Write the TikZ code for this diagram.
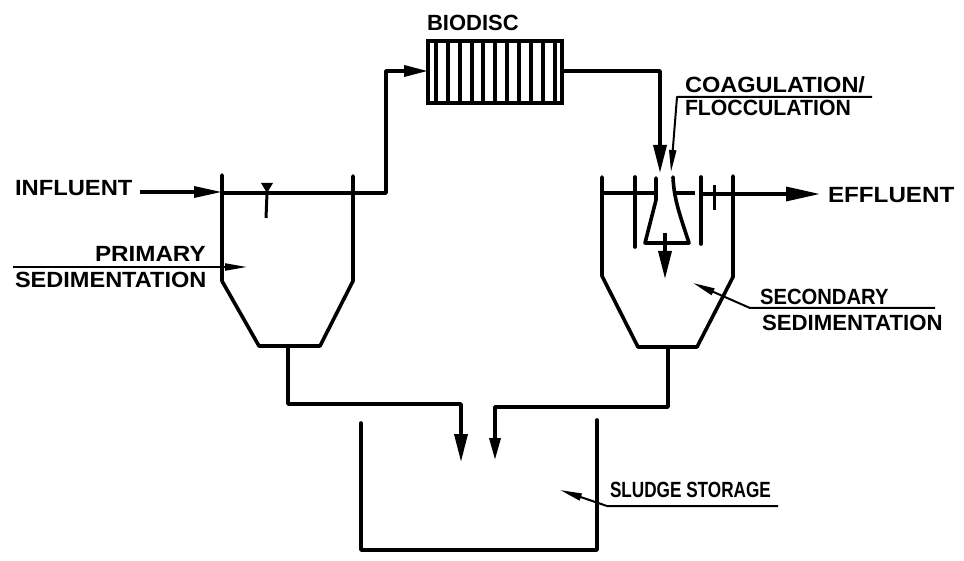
\documentclass[tikz,border=0pt]{standalone}
\usepackage{fontspec}
\setmainfont{Liberation Sans}
\usetikzlibrary{
  arrows.meta,
  positioning
}
\newcommand{\stretched}[2]{\scalebox{#1}[1]{#2}}

\begin{document}
\begin{tikzpicture}
  [
    x=1pt,y=-1pt,
    every node/.style={inner sep=0pt, outer sep=0pt},
    wall/.style={line width=3.6pt, line join=round, line cap=round},
    pipe/.style={line width=3.4pt, line join=round},
    leader/.style={line width=2pt, line join=round},
    bigtip/.style={-{Triangle[length=28pt,width=13pt]}},
    smalltip/.style={-{Triangle[length=22pt,width=7pt]}},
    lettering/.style={font=\fontsize{22}{22}\selectfont\bfseries, anchor=west},
    discbar/.style={line width=4.6pt},
  ]
  \useasboundingbox[fill=white] (0,0) rectangle (964,561);

  % primary tank
  \coordinate (PA) at (222,175);
  \coordinate (PB) at (222,281);
  \coordinate (PC) at (259,346);
  \coordinate (PD) at (320,346);
  \coordinate (PE) at (353,281);
  \coordinate (PF) at (353,176);
  \draw[wall] (PA) -- (PB) -- (PC) -- (PD) -- (PE) -- (PF);

  % secondary tank
  \coordinate (SA) at (602,177);
  \coordinate (SB) at (602,276);
  \coordinate (SC) at (638,347);
  \coordinate (SD) at (697,347);
  \coordinate (SE) at (733,277);
  \coordinate (SF) at (733,176);
  \draw[wall] (SA) -- (SB) -- (SC) -- (SD) -- (SE) -- (SF);

  % baffles and funnel
  \coordinate (BA) at (635,177);
  \coordinate (BB) at (635,247);
  \coordinate (BC) at (701,177);
  \coordinate (BD) at (701,244);
  \draw[wall] (BA) -- (BB);
  \draw[wall] (BC) -- (BD);
  \coordinate (FA) at (656,178);
  \coordinate (FB) at (656,200);
  \coordinate (FC) at (645,243);
  \coordinate (FD) at (689,243);
  \coordinate (FF) at (673,177);
  \draw[wall] (FA) -- (FB) -- (FC) -- (FD) .. controls (680,215) and (674,200) .. (FF);

  % storage
  \coordinate (TA) at (361,423);
  \coordinate (TB) at (361,550);
  \coordinate (TC) at (597,550);
  \coordinate (TD) at (597,420);
  \draw[wall] (TA) -- (TB) -- (TC) -- (TD);

  % biodisc
  \node[draw, line width=3.6pt, minimum width=134pt, minimum height=62pt] (disc) at (495,72) {};
  \foreach \barx in {436,448,460,472,483,495,507,519,531,543,555}
    \draw[discbar] (\barx,41) -- (\barx,103);
  \node[lettering] (disclabel) at (427,23) {BIODISC};

  % water lines
  \node[lettering] (influent) at (15,188) {\stretched{1.08}{INFLUENT}};
  \coordinate (inend) at (140,192);
  \draw[pipe, -{Triangle[length=28pt,width=11pt]}] (inend) -- (PA |- inend);
  \coordinate (upcorner) at (386,193);
  \coordinate (topcorner) at (386,71);
  \draw[pipe, -{Triangle[length=24pt,width=11pt]}] (PA |- upcorner) -- (upcorner) -- (topcorner) -- (disc.west |- topcorner);
  \coordinate (dropcorner) at (660,71);
  \coordinate (droptip) at (660,173);
  \draw[pipe, bigtip] (disc.east |- dropcorner) -- (dropcorner) -- (droptip);
  \coordinate (sleft) at (602,193);
  \coordinate (sfunnela) at (654,193);
  \coordinate (sfunnelb) at (674,193);
  \coordinate (smid) at (695,193);
  \draw[pipe] (sleft) -- (sfunnela);
  \draw[pipe] (sfunnelb) -- (smid);
  \node[lettering] (effluent) at (828,195) {\stretched{1.10}{EFFLUENT}};
  \coordinate (outtip) at (820,194);
  \draw[pipe, -{Triangle[length=34pt,width=14pt]}] (BC |- outtip) -- (outtip);
  \coordinate (fallstart) at (665,233);
  \coordinate (falltip) at (665,279);
  \draw[pipe, bigtip] (fallstart) -- (falltip);

  % level marks
  \coordinate (PL) at (267,193);
  \coordinate (PM) at (266,218);
  \draw[line width=3pt] (PL) -- (PM);
  \fill (PL) -- (261,183) -- (273,183) -- cycle;
  \coordinate (SL) at (714,185);
  \coordinate (SM) at (714,210);
  \draw[line width=3pt] (SL) -- (SM);

  % sludge lines
  \coordinate (PO) at (288,346);
  \coordinate (PQ) at (288,404);
  \coordinate (PT) at (461,404);
  \coordinate (PU) at (461,462);
  \draw[pipe, bigtip] (PO) -- (PQ) -- (PT) -- (PU);
  \coordinate (SO) at (668,347);
  \coordinate (SQ) at (668,407);
  \coordinate (ST) at (495,407);
  \coordinate (SU) at (495,460);
  \draw[pipe, -{Triangle[length=22pt,width=11pt]}] (SO) -- (SQ) -- (ST) -- (SU);

  % labels with leaders
  \node[lettering] (primary) at (95,254) {\stretched{1.10}{PRIMARY}};
  \node[lettering] (primarysed) at (15,280) {\stretched{1.07}{SEDIMENTATION}};
  \coordinate (primstart) at (13,267);
  \coordinate (primtip) at (247,267);
  \draw[leader, smalltip] (primstart) -- (primtip);

  \node[lettering] (coag) at (685,85) {\stretched{1.07}{COAGULATION/}};
  \node[lettering] (flocc) at (685,108) {\stretched{0.965}{FLOCCULATION}};
  \coordinate (coagstart) at (872,97);
  \coordinate (coagbend) at (677,97);
  \coordinate (coagtip) at (671,172);
  \draw[leader, smalltip] (coagstart) -- (coagbend) -- (coagtip);

  \node[lettering] (secondary) at (760,297) {\stretched{0.92}{SECONDARY}};
  \node[lettering] (secondarysed) at (762,323) {\stretched{1.01}{SEDIMENTATION}};
  \coordinate (secstart) at (935,308);
  \coordinate (secbend) at (750,308);
  \coordinate (sectip) at (693,283);
  \draw[leader, smalltip] (secstart) -- (secbend) -- (sectip);

  \node[lettering] (sludge) at (610,490) {\stretched{0.78}{SLUDGE STORAGE}};
  \coordinate (slustart) at (778,506);
  \coordinate (slubend) at (607,506);
  \coordinate (slutip) at (560,490);
  \draw[leader, smalltip] (slustart) -- (slubend) -- (slutip);
\end{tikzpicture}
\end{document}
